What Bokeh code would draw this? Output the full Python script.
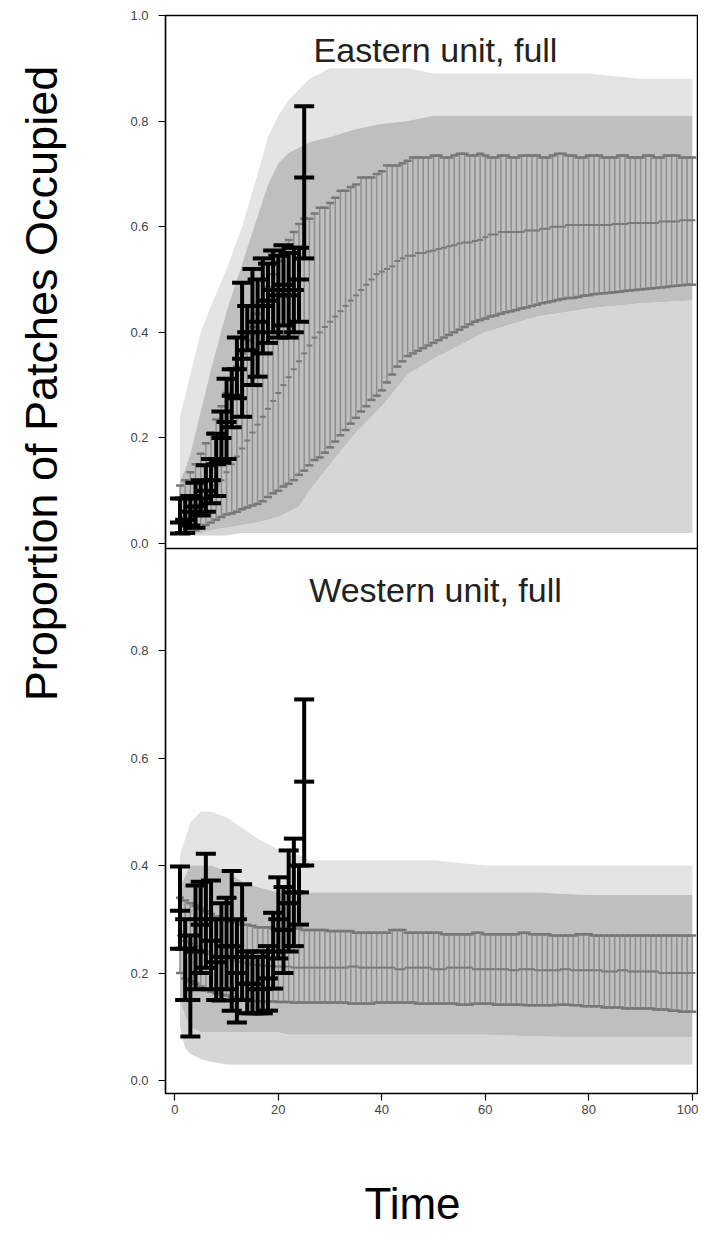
import math
from bokeh.plotting import figure
from bokeh.layouts import row, column
from bokeh.models import Range1d, FixedTicker, Label, Span
from bokeh.embed import file_html
from bokeh.resources import INLINE

# ---------------- data ----------------
time = list(range(1, 101))

# Eastern unit: simulated 95% band (grey bars) and median
east_upper = [.11, .12, .135, .15, .17, .19, .21, .235, .26, .285,
              .31, .335, .36, .385, .41, .435, .46, .485, .51, .535,
              .555, .575, .59, .605, .615, .615, .625, .636, .636, .645,
              .655, .668, .668, .675, .68, .693, .693, .693, .70, .705,
              .716, .716, .716, .72, .725, .731, .731, .731, .731, .735,
              .735, .731, .731, .735, .738, .738, .735, .735, .738, .735,
              .731, .731, .735, .735, .731, .731, .735, .735, .735, .735,
              .731, .731, .735, .738, .738, .735, .735, .731, .731, .735,
              .735, .735, .731, .731, .731, .735, .735, .731, .731, .731,
              .735, .735, .731, .731, .735, .735, .735, .731, .731, .731]
east_median = [.045, .05, .055, .065, .075, .085, .095, .11, .12, .135,
               .15, .165, .18, .195, .21, .225, .24, .255, .27, .285,
               .30, .315, .33, .345, .36, .375, .39, .40, .41, .42,
               .43, .44, .45, .46, .47, .48, .49, .50, .51, .515,
               .52, .525, .535, .54, .545, .545, .55, .55, .553, .555,
               .558, .56, .563, .565, .568, .57, .57, .573, .575, .58,
               .585, .585, .59, .59, .59, .59, .59, .593, .593, .593,
               .596, .596, .60, .60, .60, .603, .603, .603, .603, .603,
               .603, .603, .603, .603, .605, .605, .605, .607, .607, .607,
               .607, .607, .607, .61, .61, .61, .61, .612, .612, .612]
east_lower = [.02, .02, .025, .025, .03, .035, .04, .045, .05, .055,
              .057, .06, .065, .068, .072, .075, .08, .088, .095, .10,
              .108, .113, .12, .13, .138, .148, .158, .163, .172, .182,
              .193, .205, .215, .227, .238, .25, .26, .272, .28, .29,
              .305, .32, .335, .345, .355, .36, .365, .37, .375, .38,
              .385, .39, .395, .40, .405, .41, .415, .42, .423, .426,
              .43, .432, .435, .438, .44, .442, .445, .447, .45, .452,
              .455, .457, .459, .461, .463, .465, .465, .467, .469, .47,
              .472, .473, .474, .475, .476, .477, .478, .479, .48, .481,
              .482, .483, .484, .485, .486, .487, .488, .489, .49, .49]

# Western unit: simulated band and median
west_upper = [.34, .335, .33, .325, .32, .315, .31, .305, .30, .30,
              .295, .295, .29, .29, .288, .285, .285, .285, .283, .283,
              .283, .283, .283, .283, .28, .28, .28, .28, .28, .278,
              .278, .278, .278, .278, .275, .275, .275, .275, .275, .275,
              .275, .28, .28, .28, .275, .275, .275, .275, .275, .275,
              .275, .272, .272, .272, .272, .272, .272, .275, .275, .272,
              .272, .272, .272, .272, .272, .272, .275, .275, .272, .272,
              .272, .272, .27, .27, .27, .27, .27, .272, .272, .272,
              .27, .27, .27, .27, .27, .27, .27, .27, .27, .27,
              .27, .27, .27, .27, .27, .27, .27, .27, .27, .27]
west_median = [.27, .26, .255, .25, .245, .24, .235, .232, .23, .228,
               .225, .222, .22, .218, .216, .215, .214, .213, .213, .212,
               .212, .212, .21, .21, .21, .21, .21, .21, .21, .21,
               .21, .21, .21, .212, .212, .21, .21, .21, .21, .21,
               .21, .21, .207, .207, .21, .21, .21, .21, .21, .207,
               .207, .207, .21, .21, .21, .21, .21, .207, .207, .207,
               .207, .207, .207, .207, .205, .205, .207, .207, .207, .205,
               .205, .205, .205, .205, .207, .207, .205, .205, .205, .205,
               .205, .205, .203, .203, .203, .205, .205, .203, .203, .203,
               .203, .203, .203, .20, .20, .20, .20, .20, .20, .20]
west_lower = [.20, .19, .185, .18, .175, .17, .165, .162, .16, .158,
              .155, .152, .15, .15, .148, .148, .147, .147, .147, .146,
              .146, .146, .145, .145, .145, .145, .145, .145, .145, .145,
              .145, .145, .145, .143, .143, .143, .143, .143, .145, .145,
              .145, .145, .145, .145, .145, .145, .143, .143, .143, .143,
              .143, .143, .143, .143, .141, .141, .141, .143, .143, .143,
              .143, .141, .141, .141, .141, .141, .141, .14, .14, .14,
              .14, .14, .14, .141, .141, .141, .14, .14, .138, .138,
              .138, .138, .136, .136, .136, .136, .134, .134, .134, .134,
              .134, .134, .132, .132, .132, .13, .13, .128, .128, .128]

# Envelope of the cloud of simulated runs (sparse outer edge, dense core)
cloud_t = [1, 2, 3, 5, 7, 10, 13, 16, 18, 20, 22, 24, 26, 30, 35, 40, 45, 50, 60, 70, 80, 90, 100]
east_sparse_hi = [0.24, 0.28, 0.32, 0.40, 0.45, 0.52, 0.60, 0.70, 0.77, 0.81, 0.84, 0.86, 0.88, 0.90,
                  0.90, 0.90, 0.90, 0.89, 0.89, 0.89, 0.89, 0.88, 0.88]
east_dense_hi = [0.12, 0.14, 0.17, 0.25, 0.33, 0.44, 0.53, 0.62, 0.68, 0.72, 0.74, 0.75, 0.76, 0.77,
                 0.785, 0.795, 0.80, 0.81, 0.81, 0.81, 0.81, 0.81, 0.81]
east_dense_lo = [0.02, 0.02, 0.02, 0.02, 0.025, 0.03, 0.035, 0.04, 0.045, 0.05, 0.06, 0.07, 0.10, 0.15,
                 0.21, 0.26, 0.32, 0.35, 0.40, 0.43, 0.445, 0.455, 0.46]
east_sparse_lo = [0.015, 0.015, 0.015, 0.015, 0.015, 0.015, 0.02, 0.02, 0.02, 0.02, 0.02, 0.02, 0.02,
                  0.02, 0.02, 0.02, 0.02, 0.02, 0.02, 0.02, 0.02, 0.02, 0.02]
west_sparse_hi = [0.42, 0.45, 0.48, 0.50, 0.50, 0.49, 0.47, 0.45, 0.44, 0.43, 0.42, 0.42, 0.41, 0.41,
                  0.41, 0.41, 0.41, 0.41, 0.40, 0.40, 0.40, 0.40, 0.40]
west_dense_hi = [0.36, 0.38, 0.40, 0.40, 0.40, 0.39, 0.37, 0.36, 0.355, 0.35, 0.35, 0.35, 0.35, 0.35,
                 0.35, 0.35, 0.35, 0.35, 0.35, 0.35, 0.345, 0.345, 0.345]
west_dense_lo = [0.15, 0.12, 0.10, 0.09, 0.09, 0.09, 0.09, 0.09, 0.09, 0.09, 0.085, 0.085, 0.085, 0.085,
                 0.085, 0.085, 0.085, 0.085, 0.085, 0.082, 0.08, 0.08, 0.08]
west_sparse_lo = [0.10, 0.06, 0.05, 0.04, 0.035, 0.03, 0.03, 0.03, 0.03, 0.03, 0.03, 0.03, 0.03, 0.03,
                  0.03, 0.03, 0.03, 0.03, 0.03, 0.03, 0.03, 0.03, 0.03]

# Observed data (black error bars)
obs_t = list(range(1, 26))
east_obs_lo = [.019, .02, .034, .03, .053, .06, .076, .09, .153, .16, .22, .275, .24, .366, .30,
               .316, .36, .38, .40, .39, .413, .39, .40, .42, .54]
east_obs_mid = [.04, .045, .06, .07, .085, .10, .12, .15, .20, .23, .28, .33, .35, .40, .40,
                .42, .45, .46, .48, .47, .49, .47, .48, .50, .693]
east_obs_hi = [.085, .085, .09, .115, .12, .148, .16, .208, .25, .312, .33, .39, .494, .45, .52,
               .50, .54, .53, .555, .545, .565, .55, .56, .56, .828]
west_obs_lo = [.245, .15, .082, .17, .20, .21, .17, .15, .149, .17, .13, .108, .15, .125, .125,
               .125, .125, .13, .171, .227, .20, .24, .25, .29, .40]
west_obs_mid = [.316, .245, .15, .24, .29, .30, .26, .22, .23, .25, .25, .20, .23, .18, .18,
                .17, .17, .19, .24, .30, .28, .33, .35, .35, .556]
west_obs_hi = [.398, .30, .27, .363, .37, .422, .372, .30, .33, .34, .39, .30, .365, .24, .24,
               .23, .24, .25, .312, .378, .36, .428, .45, .40, .709]

x_ticks = [0, 20, 40, 60, 80, 100]
east_ticks = [0.0, 0.2, 0.4, 0.6, 0.8, 1.0]
west_ticks = [0.0, 0.2, 0.4, 0.6, 0.8]

# ---------------- layout (pixels) ----------------
TOTAL_W, TOTAL_H = 698, 1227
STRIP = 80                     # left strip holding the y title
W = TOTAL_W - STRIP            # main plot width
H = 1133                       # main plot height
LEFT, RIGHT, TOP, BOTTOM = 165 - STRIP, 1, 15, H - 1093
FW = W - LEFT - RIGHT          # frame width
FH = H - TOP - BOTTOM          # frame height (both panels)
EAST_PX = 528.0                # px per unit, top panel
WEST_PX = 537.5                # px per unit, bottom panel
WEST_ZERO = 1080 - TOP         # px from frame top to west 0.0
SPLIT = 548 - TOP              # px from frame top to panel divider

x_range = Range1d(-1.8, 101.0)
east_range = Range1d(1.0 - FH / EAST_PX, 1.0)
west_range = Range1d(-(FH - WEST_ZERO) / WEST_PX, WEST_ZERO / WEST_PX)


def px_to_x(px):
    return x_range.start + (px - STRIP - LEFT) / FW * (x_range.end - x_range.start)


def west_to_east(w):
    f = (w - west_range.start) / (west_range.end - west_range.start)
    return east_range.start + f * (east_range.end - east_range.start)


FONT = "Liberation Sans"
DENSE = "#bfbfbf"
SPARSE_UP = "#e4e4e4"
SPARSE_LO = "#d6d6d6"
BAR = "#8e8e8e"
CAP = "#777777"
MED = "#7a7a7a"

p = figure(width=W, height=H, x_range=x_range, y_range=east_range,
           output_backend="svg", toolbar_location=None,
           min_border_left=LEFT, min_border_right=RIGHT,
           min_border_top=TOP, min_border_bottom=BOTTOM)
p.extra_y_ranges = {"west": west_range}
p.grid.visible = False
p.outline_line_color = "black"
p.outline_line_width = 1.5
p.background_fill_color = "white"
p.border_fill_color = "white"

# one left axis carrying the ticks of both panels
ytick_pos = east_ticks + [west_to_east(w) for w in west_ticks]
ytick_lab = ["%.1f" % v for v in east_ticks] + ["%.1f" % v for v in west_ticks]
p.yaxis.ticker = FixedTicker(ticks=ytick_pos)
p.yaxis.major_label_overrides = {k: v for k, v in zip(ytick_pos, ytick_lab)}
p.xaxis.ticker = FixedTicker(ticks=x_ticks)
for ax in (p.xaxis[0], p.yaxis[0]):
    ax.axis_line_color = "black"
    ax.axis_line_width = 1.2
    ax.major_tick_line_color = "black"
    ax.major_tick_line_width = 1.2
    ax.major_tick_out = 7
    ax.major_tick_in = 0
    ax.minor_tick_line_color = None
    ax.major_label_text_font = FONT
    ax.major_label_text_font_size = "13px"
    ax.major_label_text_color = "#444444"
p.yaxis.major_label_standoff = 10
p.xaxis.major_label_standoff = 4

# divider between the two panels
p.add_layout(Span(location=east_range.end - SPLIT / EAST_PX, dimension="width",
                  line_color="black", line_width=1.5))


def draw(rname, upper, median, lower, s_hi, d_hi, d_lo, s_lo, o_lo, o_mid, o_hi):
    kw = {} if rname is None else {"y_range_name": rname}
    p.varea(x=cloud_t, y1=d_hi, y2=s_hi, fill_color=SPARSE_UP, **kw)
    p.varea(x=cloud_t, y1=s_lo, y2=d_lo, fill_color=SPARSE_LO, **kw)
    p.varea(x=cloud_t, y1=d_lo, y2=d_hi, fill_color=DENSE, **kw)
    p.segment(x0=time, y0=lower, x1=time, y1=upper, line_color=BAR, line_width=1.5, **kw)
    p.scatter(x=time, y=upper, marker="dash", size=8, line_color=CAP, line_width=2.5, **kw)
    p.scatter(x=time, y=lower, marker="dash", size=8, line_color=CAP, line_width=2.5, **kw)
    p.scatter(x=time, y=median, marker="dash", size=6, line_color=MED, line_width=2, **kw)
    p.segment(x0=obs_t, y0=o_lo, x1=obs_t, y1=o_hi, line_color="black", line_width=4, **kw)
    for arr in (o_lo, o_mid, o_hi):
        p.scatter(x=obs_t, y=arr, marker="dash", size=20, line_color="black", line_width=4, **kw)


draw(None, east_upper, east_median, east_lower, east_sparse_hi, east_dense_hi, east_dense_lo,
     east_sparse_lo, east_obs_lo, east_obs_mid, east_obs_hi)
draw("west", west_upper, west_median, west_lower, west_sparse_hi, west_dense_hi, west_dense_lo,
     west_sparse_lo, west_obs_lo, west_obs_mid, west_obs_hi)

p.add_layout(Label(x=px_to_x(435), y=0.934, text="Eastern unit, full", text_align="center",
                   text_baseline="alphabetic", text_font=FONT, text_font_size="34px",
                   text_color="#222222"))
p.add_layout(Label(x=px_to_x(435), y=0.912, y_range_name="west", text="Western unit, full",
                   text_align="center", text_baseline="alphabetic", text_font=FONT,
                   text_font_size="34px", text_color="#222222"))


def blank(width, height, xr, left=0, right=0):
    f = figure(width=width, height=height, x_range=xr, y_range=Range1d(0, height),
               output_backend="svg", toolbar_location=None,
               x_axis_location=None, y_axis_location=None,
               min_border_left=left, min_border_right=right, min_border_top=0, min_border_bottom=0)
    f.grid.visible = False
    f.outline_line_color = None
    f.border_fill_color = "white"
    f.background_fill_color = "white"
    return f


# left strip: shared y-axis title (page pixels -> strip pixels)
lab = blank(STRIP, TOTAL_H, Range1d(0, STRIP))
lab.add_layout(Label(x=41, y=TOTAL_H - 383, text="Proportion of Patches Occupied",
                     angle=math.pi / 2, text_align="center", text_baseline="middle",
                     text_font=FONT, text_font_size="45px", text_color="black"))

# strip under the plot (frame aligned with the plot's frame): x-axis title
TH = TOTAL_H - H
tf = blank(W, TH, x_range, left=LEFT, right=RIGHT)
tf.add_layout(Label(x=px_to_x(412), y=TH - (1203 - H), text="Time", text_align="center",
                    text_baseline="middle", text_font=FONT, text_font_size="44px",
                    text_color="black"))

layout = row(lab, column(p, tf))
open("out.html", "w").write(file_html(layout, INLINE))
